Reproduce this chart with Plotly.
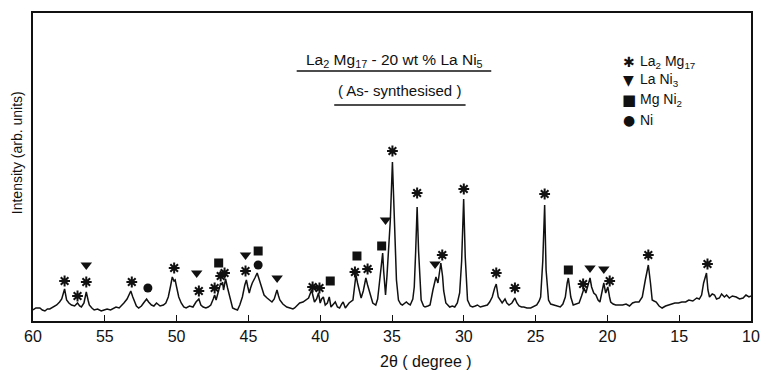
import plotly.graph_objects as go

# ---- diffractogram (2-theta in degrees, intensity in arbitrary units) ----
two_theta = [
    60.00, 59.80, 59.52, 59.35, 59.17, 59.00, 58.83, 58.60, 58.35, 58.15, 58.00, 57.80, 57.66, 57.50, 57.32,
    57.10, 56.90, 56.75, 56.63, 56.45, 56.29, 56.15, 56.08, 55.90, 55.74, 55.50, 55.25, 55.05, 54.84, 54.60,
    54.40, 54.22, 54.00, 53.85, 53.67, 53.45, 53.33, 53.19, 53.05, 52.98, 52.80, 52.64, 52.45, 52.30, 52.09,
    51.95, 51.75, 51.58, 51.40, 51.15, 50.92, 50.75, 50.58, 50.42, 50.30, 50.18, 50.10, 50.00, 49.85, 49.68,
    49.50, 49.34, 49.10, 48.86, 48.65, 48.45, 48.31, 48.15, 47.96, 47.80, 47.62, 47.45, 47.35, 47.25, 47.12,
    47.00, 46.93, 46.85, 46.80, 46.73, 46.59, 46.45, 46.31, 46.10, 45.95, 45.76, 45.60, 45.42, 45.25, 45.14,
    45.04, 44.94, 44.85, 44.73, 44.55, 44.39, 44.28, 44.18, 44.05, 43.91, 43.70, 43.50, 43.36, 43.20, 43.01,
    42.90, 42.81, 42.60, 42.33, 42.10, 41.90, 41.78, 41.60, 41.43, 41.20, 41.00, 40.81, 40.60, 40.50, 40.40,
    40.25, 40.12, 40.00, 39.90, 39.78, 39.65, 39.50, 39.37, 39.25, 39.10, 38.95, 38.80, 38.65, 38.50, 38.40,
    38.25, 38.10, 37.99, 37.72, 37.60, 37.51, 37.40, 37.30, 37.15, 37.00, 36.82, 36.70, 36.60, 36.45, 36.34,
    36.13, 36.00, 35.93, 35.80, 35.65, 35.58, 35.52, 35.45, 35.35, 35.24, 35.12, 34.97, 34.87, 34.80, 34.69,
    34.55, 34.40, 34.28, 34.10, 34.00, 33.85, 33.73, 33.55, 33.45, 33.35, 33.25, 33.15, 33.05, 32.97, 32.80,
    32.70, 32.50, 32.35, 32.15, 31.94, 31.80, 31.60, 31.48, 31.40, 31.25, 30.98, 30.80, 30.63, 30.45, 30.29,
    30.15, 30.01, 29.90, 29.80, 29.74, 29.55, 29.39, 29.20, 29.05, 28.85, 28.65, 28.50, 28.36, 28.20, 28.02,
    27.85, 27.74, 27.60, 27.45, 27.33, 27.13, 27.00, 26.85, 26.65, 26.44, 26.30, 26.15, 25.98, 25.82, 25.60,
    25.34, 25.15, 24.92, 24.75, 24.65, 24.50, 24.37, 24.27, 24.18, 24.10, 23.95, 23.76, 23.50, 23.28, 23.10,
    22.93, 22.80, 22.72, 22.62, 22.55, 22.38, 22.20, 21.97, 21.80, 21.62, 21.50, 21.35, 21.21, 21.10, 20.95,
    20.80, 20.65, 20.52, 20.35, 20.25, 20.12, 19.97, 19.85, 19.77, 19.60, 19.42, 19.20, 18.94, 18.70, 18.46,
    18.25, 18.05, 17.80, 17.57, 17.36, 17.15, 17.00, 16.88, 16.75, 16.60, 16.40, 16.19, 15.95, 15.71, 15.50,
    15.30, 15.05, 14.82, 14.55, 14.33, 14.05, 13.78, 13.60, 13.44, 13.30, 13.10, 13.00, 12.89, 12.70, 12.54,
    12.40, 12.20, 12.05, 11.85, 11.70, 11.51, 11.30, 11.03, 10.80, 10.55, 10.35, 10.14, 10.00,
]
intensity = [
    11, 13, 13, 11, 10, 12, 12, 14, 16, 19, 22, 32, 21, 18, 16,
    15, 18, 15, 14, 18, 29, 20, 16, 13, 11, 12, 10, 11, 12, 11,
    13, 14, 13, 15, 18, 22, 26, 30, 24, 21, 15, 13, 15, 18, 22,
    19, 16, 15, 18, 15, 16, 18, 24, 35, 44, 40, 41, 34, 24, 18,
    14, 13, 15, 14, 19, 22, 16, 14, 13, 14, 16, 22, 26, 21, 28,
    34, 38, 36, 39, 31, 42, 33, 24, 13, 12, 11, 16, 24, 36, 41,
    34, 28, 33, 38, 43, 48, 43, 38, 31, 26, 23, 21, 19, 22, 31,
    25, 21, 17, 14, 13, 12, 13, 16, 18, 19, 21, 23, 31, 24, 19,
    22, 28, 18, 22, 24, 16, 18, 24, 14, 17, 19, 14, 13, 17, 19,
    13, 16, 18, 21, 33, 46, 38, 31, 23, 30, 43, 36, 31, 22, 18,
    16, 22, 31, 48, 68, 50, 38, 26, 45, 71, 100, 159, 110, 70, 41,
    21, 17, 16, 18, 19, 17, 16, 22, 34, 70, 114, 70, 35, 21, 15,
    14, 15, 16, 31, 44, 38, 58, 45, 30, 18, 14, 15, 14, 18, 28,
    60, 122, 64, 30, 21, 15, 14, 15, 16, 14, 15, 16, 16, 19, 24,
    33, 37, 24, 20, 18, 22, 18, 16, 18, 23, 18, 15, 14, 14, 13,
    13, 14, 16, 20, 24, 60, 116, 51, 28, 21, 17, 16, 15, 14, 17,
    24, 38, 43, 32, 24, 16, 17, 18, 25, 33, 28, 36, 43, 34, 28,
    26, 21, 19, 30, 38, 28, 34, 24, 19, 17, 16, 16, 16, 17, 15,
    18, 19, 19, 24, 41, 56, 38, 21, 20, 19, 15, 13, 15, 16, 17,
    18, 18, 19, 19, 21, 20, 23, 22, 26, 38, 48, 31, 24, 27, 26,
    22, 23, 27, 24, 26, 23, 25, 24, 22, 23, 26, 24, 25,
]

# ---- phase markers (peak position, marker height) ----
la2mg17_pos = [57.8, 56.9, 56.29, 53.12, 50.17, 48.45, 47.35, 46.93, 46.66, 45.2, 40.53, 40.05, 37.58,
               36.7, 34.97, 33.25, 31.5, 30.0, 27.74, 26.44, 24.37, 21.69, 19.84, 17.15, 13.03]
la2mg17_h = [40, 25, 39, 39, 53, 30, 33, 45, 48, 50, 34, 33, 49,
             52, 170, 128, 66, 132, 48, 33, 127, 37, 40, 66, 57]
lani3_pos = [56.29, 48.6, 45.2, 43.0, 35.45, 32.0, 21.21, 20.25]
lani3_h = [56, 48, 66, 43, 101, 57, 53, 52]
mgni2_pos = [47.07, 44.32, 39.3, 37.44, 35.72, 22.72]
mgni2_h = [58, 70, 40, 65, 75, 51]
ni_pos = [52.0, 44.32]
ni_h = [33, 56]

x_ticks = [60, 55, 50, 45, 40, 35, 30, 25, 20, 15, 10]

INK = "#111111"
FONT = "Liberation Sans"

fig = go.Figure()
fig.add_trace(go.Scatter(x=two_theta, y=intensity, mode="lines",
                         line=dict(color=INK, width=1.5), showlegend=False))
fig.add_trace(go.Scatter(x=la2mg17_pos, y=la2mg17_h, mode="markers", showlegend=False,
                         marker=dict(symbol="asterisk-open", size=9, color=INK,
                                     line=dict(color=INK, width=2))))
fig.add_trace(go.Scatter(x=lani3_pos, y=lani3_h, mode="markers", showlegend=False,
                         marker=dict(symbol="triangle-down", size=10, color=INK)))
fig.add_trace(go.Scatter(x=mgni2_pos, y=mgni2_h, mode="markers", showlegend=False,
                         marker=dict(symbol="square", size=9, color=INK)))
fig.add_trace(go.Scatter(x=ni_pos, y=ni_h, mode="markers", showlegend=False,
                         marker=dict(symbol="circle", size=9, color=INK)))

W, H = 768, 370
L, R, T, B = 33, 8, 13, 49
PW, PH = W - L - R, H - T - B


def px(x):
    return (x - L) / PW


def py(y):
    return (H - B - y) / PH


annotations = [
    dict(text="La<sub>2</sub> Mg<sub>17</sub> - 20 wt % La Ni<sub>5</sub>",
         x=px(399), y=py(60), font=dict(size=15.5)),
    dict(text="( As- synthesised )", x=px(404), y=py(90), font=dict(size=15)),
    dict(text="2θ ( degree )", x=px(431), y=py(361), font=dict(size=16)),
    dict(text="Intensity (arb. units)", x=px(17), y=py(153), textangle=-90, font=dict(size=14)),
]
legend_items = [("✱", "La<sub>2</sub> Mg<sub>17</sub>", 62, 14), ("▼", "La Ni<sub>3</sub>", 80, 14),
                ("■", "Mg Ni<sub>2</sub>", 100, 15), ("●", "Ni", 120, 14)]
for sym, lab, yy, ss in legend_items:
    annotations.append(dict(text=sym, x=px(636), y=py(yy), font=dict(size=ss, family="DejaVu Sans")))
    annotations.append(dict(text=lab, x=px(646), y=py(yy), xanchor="left", font=dict(size=14)))
for a in annotations:
    a.setdefault("xanchor", "center")
    a.update(xref="paper", yref="paper", showarrow=False, yanchor="middle")
    a["font"].setdefault("family", FONT)
    a["font"].update(color=INK)

shapes = [
    dict(type="line", xref="paper", yref="paper", x0=px(300), x1=px(497), y0=py(71), y1=py(71),
         line=dict(color=INK, width=1.3)),
    dict(type="line", xref="paper", yref="paper", x0=px(338), x1=px(471), y0=py(105), y1=py(105),
         line=dict(color=INK, width=1.3)),
]

fig.update_layout(
    width=W, height=H, margin=dict(l=L, r=R, t=T, b=B),
    paper_bgcolor="white", plot_bgcolor="white",
    font=dict(family=FONT, color=INK),
    annotations=annotations, shapes=shapes,
    xaxis=dict(range=[60, 10], tickvals=x_ticks, ticktext=[str(v) for v in x_ticks],
               ticks="inside", ticklen=6, tickwidth=1.3, tickcolor=INK,
               showline=True, mirror=True, linecolor=INK, linewidth=1.5,
               showgrid=False, zeroline=False, tickfont=dict(size=16, family=FONT, color=INK)),
    yaxis=dict(range=[0, PH], showticklabels=False, ticks="", showline=True, mirror=True,
               linecolor=INK, linewidth=1.5, showgrid=False, zeroline=False),
)

fig.write_html("out.html")
